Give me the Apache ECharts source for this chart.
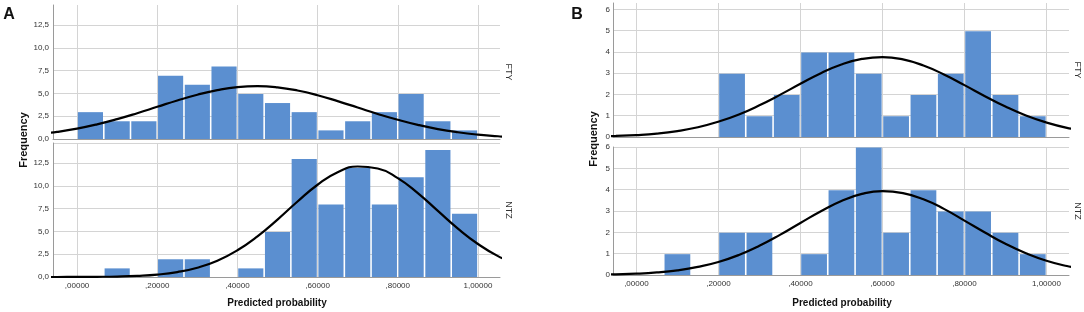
<!DOCTYPE html>
<html>
<head>
<meta charset="utf-8">
<script src="https://cdn.jsdelivr.net/npm/echarts@6/dist/echarts.min.js"></script>
<style>
html,body{margin:0;padding:0;background:#fff;}
#c{width:1084px;height:312px;}
</style>
</head>
<body>
<div id="c"></div>
<script>
// ---- data ----
const binLeft  = [0, 0.0667, 0.1333, 0.2, 0.2667, 0.3333, 0.4, 0.4667, 0.5333, 0.6, 0.6667, 0.7333, 0.8, 0.8667, 0.9333];
const binWidth = 0.0667;
const ftyA = [3, 2, 2, 7, 6, 8, 5, 4, 3, 1, 2, 3, 5, 2, 1];
const ntzA = [0, 1, 0, 2, 2, 0, 1, 5, 13, 8, 12, 8, 11, 14, 7];
const ftyB = [0, 0, 0, 3, 1, 2, 4, 4, 3, 1, 2, 3, 5, 2, 1];
const ntzB = [0, 1, 0, 2, 2, 0, 1, 4, 6, 2, 4, 3, 3, 2, 1];

const curveX = [-0.10, -0.05, 0.00, 0.05, 0.10, 0.15, 0.20, 0.25, 0.30, 0.35, 0.40, 0.45, 0.50, 0.55, 0.60, 0.65, 0.70, 0.75, 0.80, 0.85, 0.90, 0.95, 1.00, 1.05, 1.10];
const curveFtyA = [0.51, 0.78, 1.14, 1.61, 2.18, 2.83, 3.53, 4.23, 4.86, 5.37, 5.70, 5.80, 5.67, 5.32, 4.80, 4.15, 3.45, 2.75, 2.11, 1.55, 1.09, 0.74, 0.48, 0.30, 0.18];
const curveNtzA = [0.00, 0.00, 0.01, 0.02, 0.05, 0.12, 0.26, 0.54, 1.02, 1.79, 2.93, 4.46, 6.30, 8.28, 10.12, 11.49, 12.12, 11.90, 10.85, 9.20, 7.25, 5.31, 3.62, 2.29, 1.35];
const curveFtyB = [0.02, 0.05, 0.09, 0.16, 0.28, 0.46, 0.72, 1.06, 1.49, 1.98, 2.50, 3.00, 3.41, 3.67, 3.76, 3.65, 3.36, 2.94, 2.44, 1.92, 1.43, 1.01, 0.68, 0.43, 0.26];
const curveNtzB = [0.01, 0.03, 0.06, 0.12, 0.22, 0.38, 0.61, 0.94, 1.37, 1.88, 2.44, 2.99, 3.47, 3.80, 3.93, 3.84, 3.55, 3.10, 2.55, 1.99, 1.46, 1.02, 0.67, 0.42, 0.24];

const xTickValues = [0, 0.2, 0.4, 0.6, 0.8, 1.0];
const xTickLabels = [',00000', ',20000', ',40000', ',60000', ',80000', '1,00000'];
const panelNames = ['FTY', 'NTZ'];
const panelLetters = ['A', 'B'];
const xTitle = 'Predicted probability';
const yTitle = 'Frequency';

// ---- styling ----
const BAR = '#5b8fd0';
const GRID = '#d4d4d4';
const AXIS = '#9a9a9a';
const FONT = 'Liberation Sans, Arial, sans-serif';

const grids = [
  {left: 53,  top: 5,   width: 447, height: 134},
  {left: 53,  top: 143, width: 447, height: 134},
  {left: 613, top: 3,   width: 456, height: 134},
  {left: 613, top: 147, width: 456, height: 128}
];
const xRange = [[-0.06, 1.055], [-0.06, 1.055], [-0.057, 1.055], [-0.057, 1.055]];
const yCfg = [
  {max: 14.7, interval: 2.5, dec: 1, maxLine: false, maxLabel: false},
  {max: 14.7, interval: 2.5, dec: 1, maxLine: true,  maxLabel: false},
  {max: 6.3,  interval: 1,   dec: 0, maxLine: false, maxLabel: false},
  {max: 6,    interval: 1,   dec: 0, maxLine: true,  maxLabel: true}
];
const counts = [ftyA, ntzA, ftyB, ntzB];
const curves = [curveFtyA, curveNtzA, curveFtyB, curveNtzB];

const xAxes = grids.map((g, i) => ({
  type: 'value', gridIndex: i, min: xRange[i][0], max: xRange[i][1],
  axisLine: {show: true, onZero: false, lineStyle: {color: AXIS, width: 1}},
  axisTick: {show: false, customValues: xTickValues},
  splitLine: {show: true, lineStyle: {color: GRID, width: 1}},
  axisLabel: {
    show: i % 2 === 1, customValues: xTickValues, margin: 5,
    fontSize: 8, color: '#333', fontFamily: FONT,
    formatter: v => { const k = xTickValues.findIndex(t => Math.abs(t - v) < 1e-6); return k >= 0 ? xTickLabels[k] : ''; }
  }
}));

const yAxes = grids.map((g, i) => ({
  type: 'value', gridIndex: i, min: 0, max: yCfg[i].max, interval: yCfg[i].interval,
  axisLine: {show: true, onZero: false, lineStyle: {color: AXIS, width: 1}},
  axisTick: {show: false},
  splitLine: {show: true, showMinLine: false, showMaxLine: yCfg[i].maxLine, lineStyle: {color: GRID, width: 1}},
  axisLabel: {
    show: true, margin: i < 2 ? 4 : 3, fontSize: 8, color: '#333', fontFamily: FONT,
    showMaxLabel: yCfg[i].maxLabel,
    formatter: v => v.toFixed(yCfg[i].dec).replace('.', ',')
  }
}));

const series = [];
counts.forEach((arr, i) => {
  const data = [];
  arr.forEach((c, k) => { if (c > 0) data.push([binLeft[k], binLeft[k] + binWidth, c]); });
  series.push({
    type: 'custom', xAxisIndex: i, yAxisIndex: i, data: data, z: 2,
    encode: {x: [0, 1], y: 2},
    renderItem: (params, api) => {
      const p0 = api.coord([api.value(0), 0]);
      const p1 = api.coord([api.value(1), api.value(2)]);
      return {
        type: 'rect',
        shape: {x: p0[0] + 0.8, y: p1[1] + 0.5, width: p1[0] - p0[0] - 1.6, height: p0[1] - p1[1] - 0.5},
        style: {fill: BAR}
      };
    }
  });
  series.push({
    type: 'line', xAxisIndex: i, yAxisIndex: i, z: 5,
    data: curveX.map((x, k) => [x, curves[i][k]]),
    smooth: true, showSymbol: false, symbol: 'none', clip: true,
    lineStyle: {color: '#000', width: 2.2}
  });
});

function txt(x, y, s, size, bold, rot) {
  return {
    type: 'text', x: x, y: y, rotation: rot || 0, z: 10,
    style: {text: s, fontSize: size, fontWeight: bold ? 'bold' : 'normal', fill: bold ? '#111' : '#333',
            fontFamily: FONT, align: 'center', verticalAlign: 'middle'}
  };
}

const graphic = [
  txt(9, 15, panelLetters[0], 16, true),
  txt(577, 15, panelLetters[1], 16, true),
  txt(24, 140, yTitle, 11, true, Math.PI / 2),
  txt(594, 139, yTitle, 11, true, Math.PI / 2),
  txt(277, 303, xTitle, 10, true),
  txt(842, 303, xTitle, 10, true),
  txt(508, 72, panelNames[0], 9, false, -Math.PI / 2),
  txt(508, 210, panelNames[1], 9, false, -Math.PI / 2),
  txt(1077, 70, panelNames[0], 9, false, -Math.PI / 2),
  txt(1077, 211, panelNames[1], 9, false, -Math.PI / 2)
];

const chart = echarts.init(document.getElementById('c'), null, {renderer: 'canvas'});
chart.setOption({
  animation: false,
  backgroundColor: '#fff',
  grid: grids,
  xAxis: xAxes,
  yAxis: yAxes,
  series: series,
  graphic: graphic
});
</script>
</body>
</html>
